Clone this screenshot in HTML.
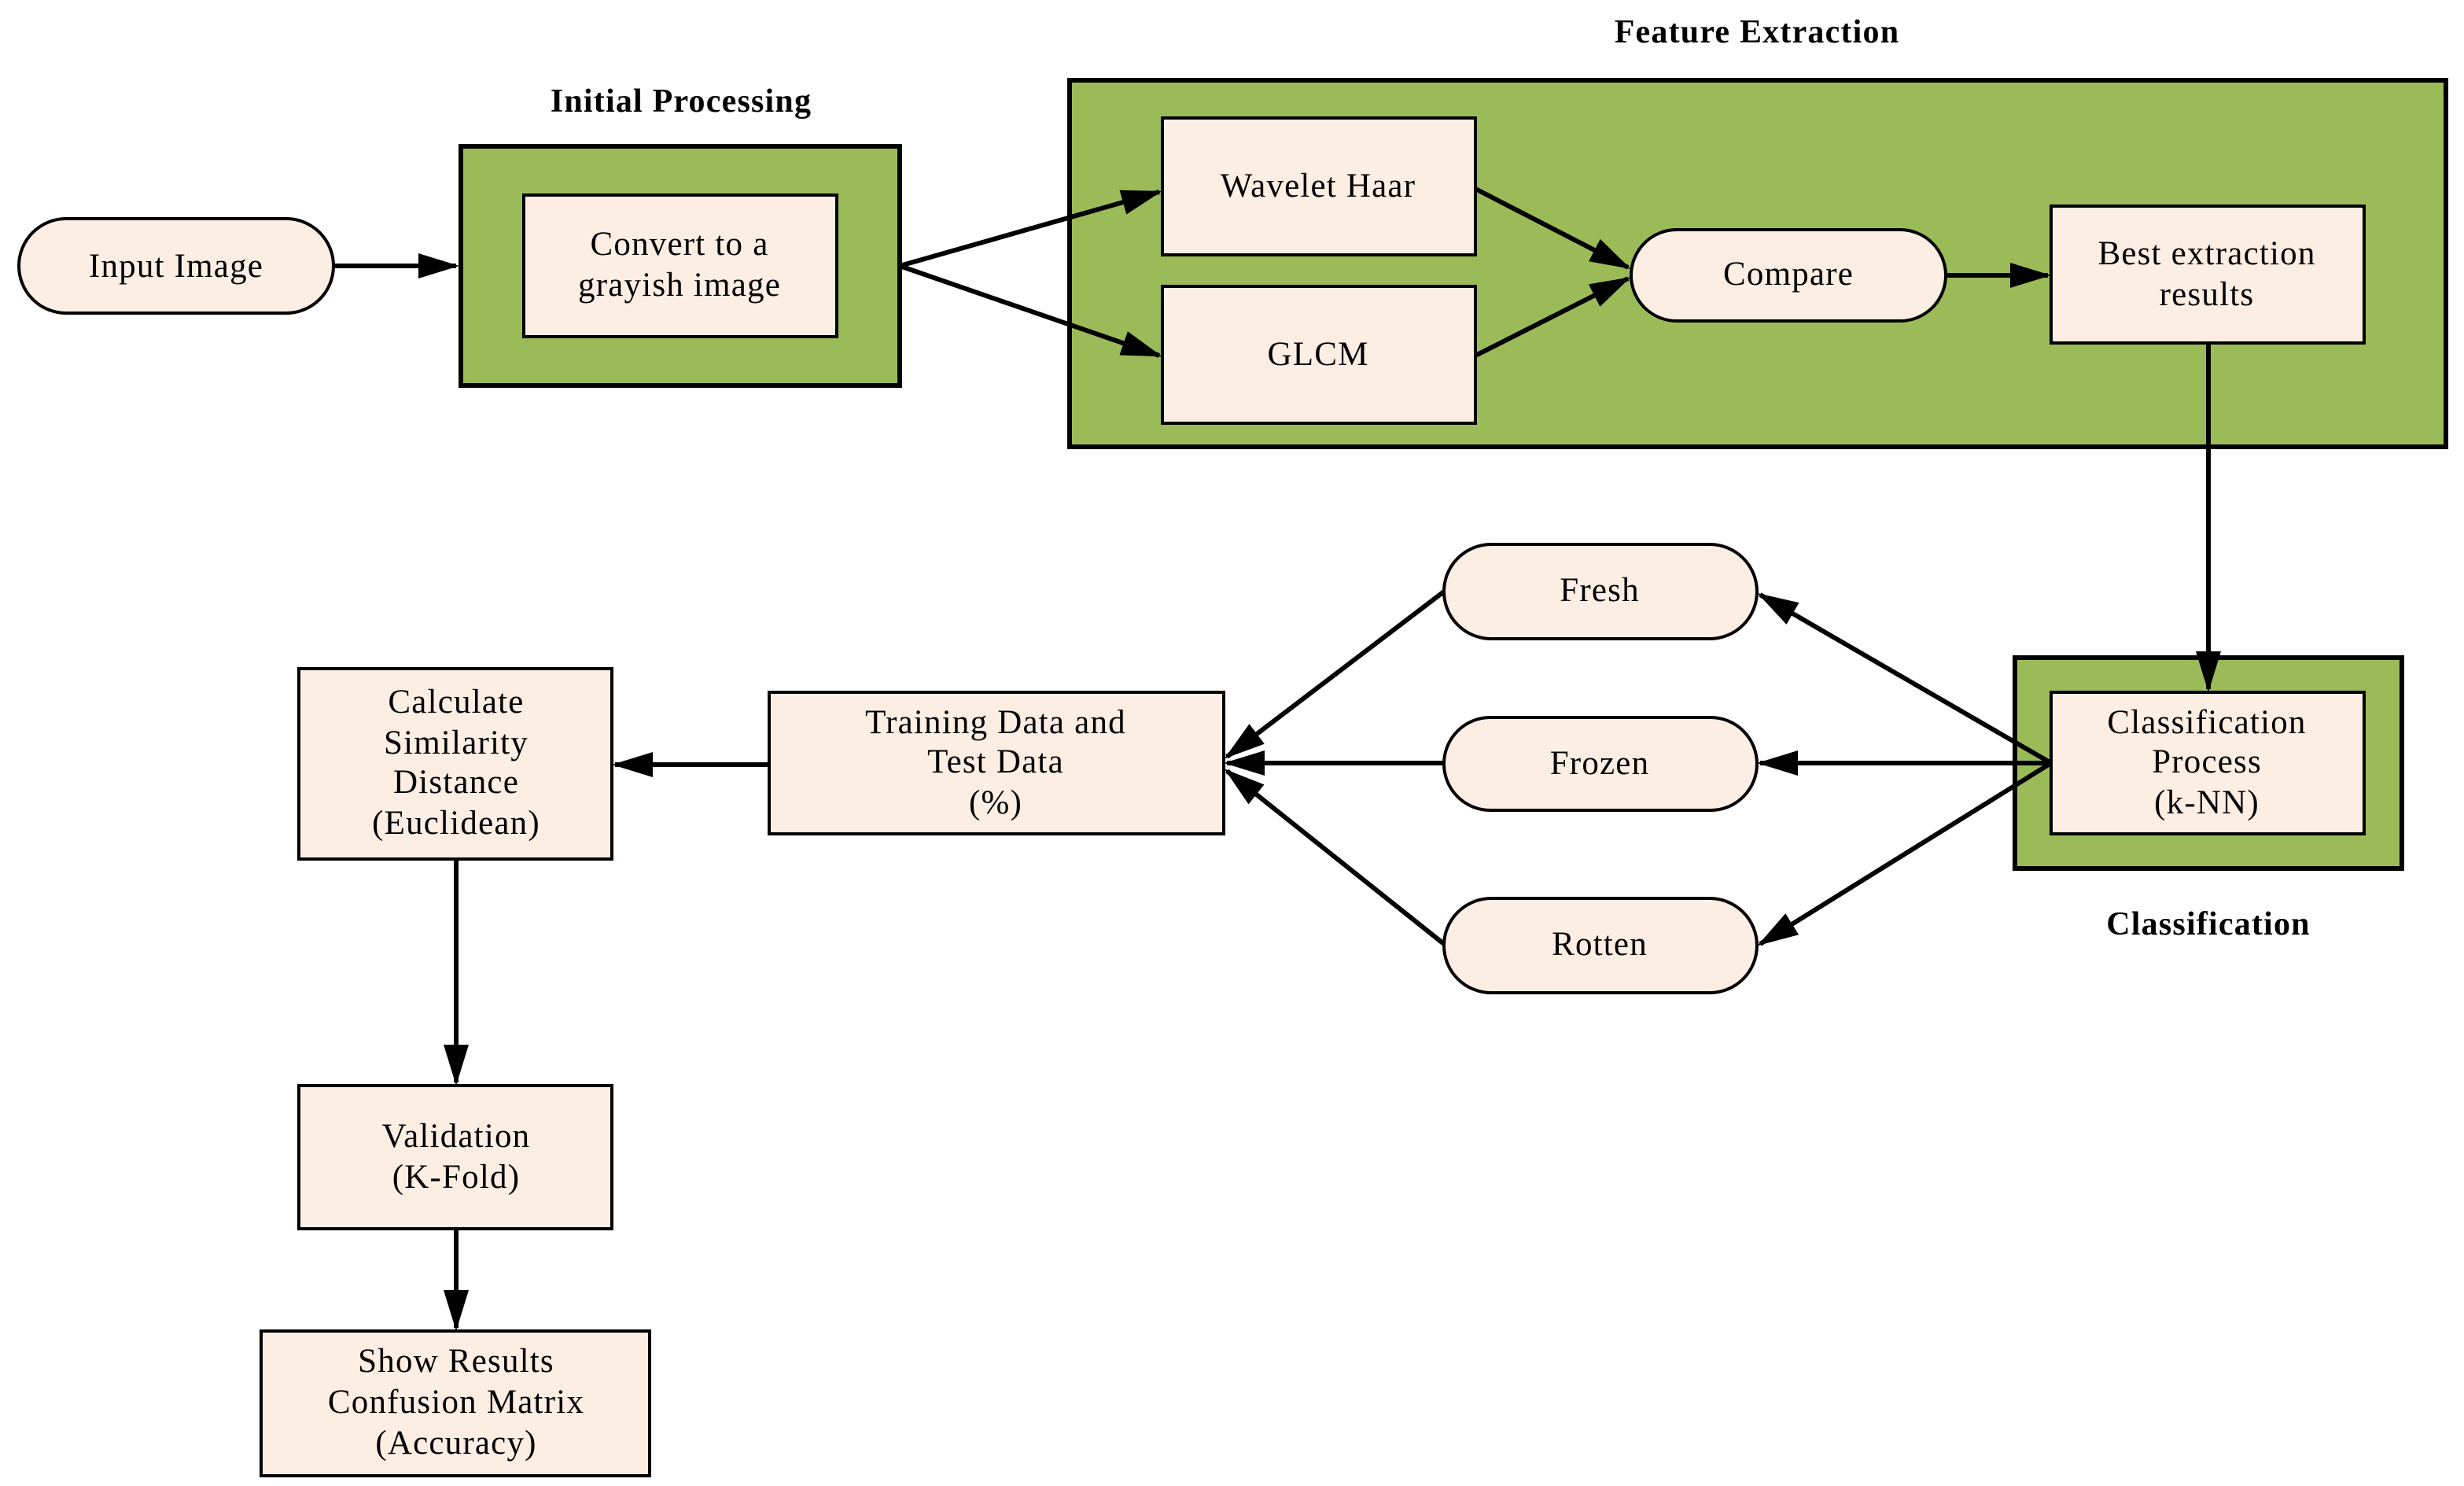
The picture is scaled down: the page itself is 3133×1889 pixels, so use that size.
<!DOCTYPE html>
<html><head><meta charset="utf-8"><style>
html,body{margin:0;padding:0;background:#fff;}
svg{display:block;}
text{font-family:"Liberation Serif",serif;font-size:21.5px;fill:#000;text-anchor:middle;letter-spacing:0.6px;}
.b{font-weight:bold;font-size:21px;}
.g{fill:#9bbb59;stroke:#000;stroke-width:3;}
.n{fill:#fdeee4;stroke:#000;stroke-width:2;}
.l{stroke:#000;stroke-width:3;fill:none;marker-end:url(#a);}
</style></head><body>
<svg width="3133" height="1889" viewBox="0 0 1566.5 944.5" xmlns="http://www.w3.org/2000/svg">
<defs><marker id="a" markerWidth="26" markerHeight="16" refX="24" refY="8" orient="auto" markerUnits="userSpaceOnUse" viewBox="0 0 26 16"><path d="M0,0 L26,8 L0,16 z" fill="#000"/></marker>
</defs>
<rect class="g" x="293" y="93" width="279" height="152"/>
<rect class="g" x="680" y="51" width="875" height="233"/>
<rect class="g" x="1281" y="418" width="246" height="134"/>
<text class="b" x="433" y="71">Initial Processing</text>
<text class="b" x="1117" y="27">Feature Extraction</text>
<text class="b" x="1404" y="594">Classification</text>

<rect class="n" x="12" y="139" width="200" height="60" rx="30"/>
<text x="112" y="176">Input Image</text>
<rect class="n" x="333" y="124" width="199" height="90"/>
<text x="432" y="162">Convert to a</text><text x="432" y="188">grayish image</text>
<rect class="n" x="739" y="75" width="199" height="87"/>
<text x="838" y="125">Wavelet Haar</text>
<rect class="n" x="739" y="182" width="199" height="87"/>
<text x="838" y="232">GLCM</text>
<rect class="n" x="1037" y="146" width="200" height="58" rx="29"/>
<text x="1137" y="181">Compare</text>
<rect class="n" x="1304" y="131" width="199" height="87"/>
<text x="1403" y="168">Best extraction</text><text x="1403" y="194">results</text>
<rect class="n" x="1304" y="440" width="199" height="90"/>
<text x="1403" y="466">Classification</text><text x="1403" y="491">Process</text><text x="1403" y="517">(k-NN)</text>
<rect class="n" x="918" y="346" width="199" height="60" rx="30"/>
<text x="1017" y="382">Fresh</text>
<rect class="n" x="918" y="456" width="199" height="59" rx="29.5"/>
<text x="1017" y="492">Frozen</text>
<rect class="n" x="918" y="571" width="199" height="60" rx="30"/>
<text x="1017" y="607">Rotten</text>
<rect class="n" x="489" y="440" width="289" height="90"/>
<text x="633" y="466">Training Data and</text><text x="633" y="491">Test Data</text><text x="633" y="517">(%)</text>
<rect class="n" x="190" y="425" width="199" height="121"/>
<text x="290" y="453">Calculate</text><text x="290" y="479">Similarity</text><text x="290" y="504">Distance</text><text x="290" y="530">(Euclidean)</text>
<rect class="n" x="190" y="690" width="199" height="91"/>
<text x="290" y="729">Validation</text><text x="290" y="755">(K-Fold)</text>
<rect class="n" x="166" y="846" width="247" height="92"/>
<text x="290" y="872">Show Results</text><text x="290" y="898">Confusion Matrix</text><text x="290" y="924">(Accuracy)</text>

<path class="l" d="M212,169 L290,169"/>
<path class="l" d="M572,169 L737,122"/>
<path class="l" d="M572,169 L737,226"/>
<path class="l" d="M938,120 L1035,170"/>
<path class="l" d="M938,226 L1035,177"/>
<path class="l" d="M1237,175 L1302,175"/>
<path class="l" d="M1404,218 L1404,438"/>
<path class="l" d="M1304,485 L1119,378"/>
<path class="l" d="M1304,485 L1119,485"/>
<path class="l" d="M1304,485 L1119,600"/>
<path class="l" d="M918,376 L780,481"/>
<path class="l" d="M918,485 L780,485"/>
<path class="l" d="M918,600 L780,490"/>
<path class="l" d="M489,486 L391,486"/>
<path class="l" d="M290,546 L290,688"/>
<path class="l" d="M290,781 L290,844"/>
</svg>
</body></html>
